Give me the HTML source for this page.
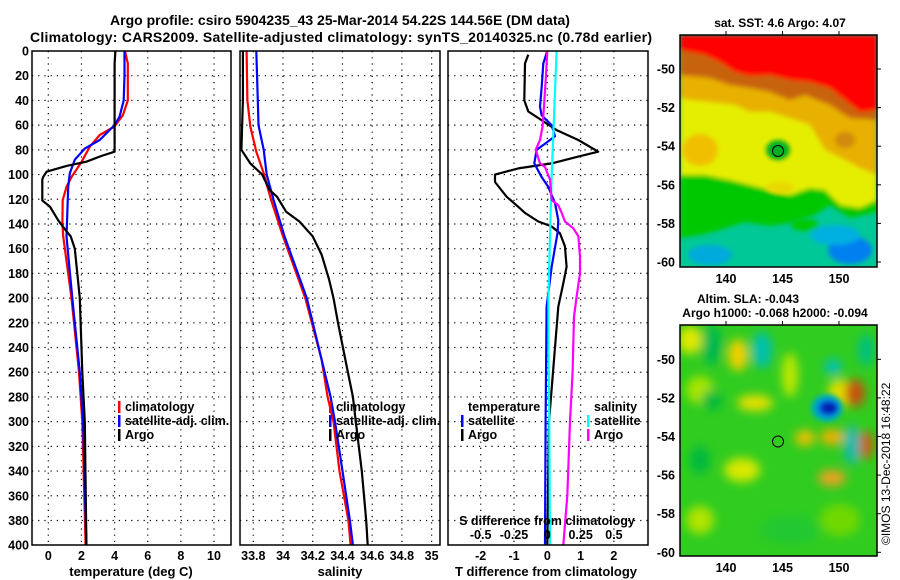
<!DOCTYPE html>
<html><head><meta charset="utf-8">
<style>
html,body{margin:0;padding:0;background:#fff;}
svg{display:block;font-family:"Liberation Sans",Arial,sans-serif;font-weight:bold;}
text{fill:#000;}
</style></head>
<body>
<svg id="chart" width="900" height="580" viewBox="0 0 900 580">
<defs>
<filter id="blur1" x="-20%" y="-20%" width="140%" height="140%"><feGaussianBlur stdDeviation="2.5"/></filter>
<filter id="blur2" x="-50%" y="-50%" width="200%" height="200%"><feGaussianBlur stdDeviation="5"/></filter>
<clipPath id="clipMap1"><rect x="680" y="35" width="197" height="232"/></clipPath>
<clipPath id="clipMap2"><rect x="680" y="325" width="197" height="231"/></clipPath>
<clipPath id="clipP1"><rect x="32" y="51" width="199" height="494"/></clipPath>
<clipPath id="clipP2"><rect x="240" y="51" width="200" height="494"/></clipPath>
<clipPath id="clipP3"><rect x="448" y="51" width="200" height="494"/></clipPath>
</defs>

<text x="340" y="25" font-size="14" text-anchor="middle">Argo profile: csiro 5904235_43 25-Mar-2014 54.22S 144.56E (DM data)</text>
<text x="341" y="42" font-size="14" text-anchor="middle" textLength="622">Climatology: CARS2009. Satellite-adjusted climatology: synTS_20140325.nc (0.78d earlier)</text>

<g id="grids"></g>
<g id="lines"></g>
<g id="frames"></g>
<g id="labels"></g>

<!-- Map 1 SST -->
<g clip-path="url(#clipMap1)">
<rect x="680" y="35" width="197" height="232" fill="#00c896"/>
<g filter="url(#blur1)">
<polygon fill="#00c800" points="680,35 877,35 877,212 850,218 830,205 815,215 795,222 770,226 745,222 720,230 700,235 680,238"/>
<polygon fill="#e6ee00" points="680,35 877,35 877,200 860,208 840,205 825,190 810,188 790,195 770,190 750,185 730,180 705,175 680,175"/>
<polygon fill="#e8b000" points="680,35 877,35 877,175 860,168 845,160 825,150 810,125 790,118 770,112 750,112 735,105 710,102 690,100 680,98"/>
<polygon fill="#c8640a" points="680,35 877,35 877,120 850,118 830,105 805,95 790,100 770,92 750,88 730,85 710,78 690,76 680,75"/>
<polygon fill="#ff0000" points="680,35 877,35 877,110 860,112 845,100 830,88 810,82 790,80 770,75 750,76 735,72 720,62 705,55 690,52 680,50"/>
</g>
<g filter="url(#blur1)">
<ellipse cx="850" cy="185" rx="12" ry="14" fill="#e6ee00"/>
<ellipse cx="845" cy="140" rx="10" ry="8" fill="#d08a10"/>
<ellipse cx="778" cy="150" rx="12" ry="10" fill="#00b020"/>
<ellipse cx="780" cy="188" rx="14" ry="6" fill="#e8d800"/>
<ellipse cx="700" cy="150" rx="18" ry="16" fill="#f0c000"/>
<ellipse cx="850" cy="250" rx="22" ry="14" fill="#0080f0"/>
<ellipse cx="710" cy="255" rx="22" ry="10" fill="#00aadd"/>
<ellipse cx="835" cy="235" rx="25" ry="10" fill="#00b0e0"/>
<ellipse cx="805" cy="225" rx="14" ry="6" fill="#00c800"/>
</g>
</g>
<rect x="680" y="35" width="197" height="232" fill="none" stroke="#000" stroke-width="1.5"/>
<circle cx="778" cy="151" r="5.5" fill="none" stroke="#000" stroke-width="1"/>
<text x="780" y="27" font-size="12" text-anchor="middle">sat. SST: 4.6 Argo: 4.07</text>

<!-- Map 2 SLA -->
<g clip-path="url(#clipMap2)">
<rect x="680" y="325" width="197" height="231" fill="#30cc20"/>
<g filter="url(#blur2)">
<ellipse cx="690" cy="340" rx="12" ry="14" fill="#e0e800"/>
<ellipse cx="738" cy="355" rx="10" ry="16" fill="#f0d000"/>
<ellipse cx="762" cy="350" rx="10" ry="18" fill="#00c0b0"/>
<ellipse cx="712" cy="345" rx="10" ry="20" fill="#00b850"/>
<ellipse cx="790" cy="375" rx="8" ry="22" fill="#c0e800"/>
<ellipse cx="755" cy="403" rx="18" ry="8" fill="#e8e000"/>
<ellipse cx="700" cy="390" rx="14" ry="14" fill="#a8e400"/>
<ellipse cx="712" cy="400" rx="10" ry="10" fill="#00b840"/>
<ellipse cx="840" cy="393" rx="12" ry="14" fill="#e0e000"/>
<ellipse cx="855" cy="393" rx="10" ry="14" fill="#c85010"/>
<ellipse cx="866" cy="445" rx="8" ry="14" fill="#c86010"/>
<ellipse cx="805" cy="438" rx="10" ry="8" fill="#f0c000"/>
<ellipse cx="832" cy="437" rx="12" ry="8" fill="#f0b000"/>
<ellipse cx="852" cy="445" rx="8" ry="20" fill="#10b8b0"/>
<ellipse cx="832" cy="478" rx="14" ry="8" fill="#f0a020"/>
<ellipse cx="742" cy="470" rx="18" ry="12" fill="#d8e800"/>
<ellipse cx="700" cy="460" rx="10" ry="14" fill="#00b840"/>
<ellipse cx="700" cy="520" rx="14" ry="14" fill="#b0e400"/>
<ellipse cx="790" cy="530" rx="30" ry="14" fill="#20c830"/>
<ellipse cx="840" cy="520" rx="20" ry="16" fill="#70d800"/>
<ellipse cx="866" cy="350" rx="8" ry="16" fill="#00c080"/>
<ellipse cx="833" cy="367" rx="8" ry="8" fill="#00c0c0"/>
</g>
<g filter="url(#blur1)">
<ellipse cx="827" cy="408" rx="16" ry="14" fill="#00b0b0"/>
<ellipse cx="828" cy="408" rx="11" ry="9" fill="#0070e8"/>
<ellipse cx="829" cy="408" rx="8" ry="6" fill="#0020b0"/>
</g>
</g>
<rect x="680" y="325" width="197" height="231" fill="none" stroke="#000" stroke-width="1.5"/>
<circle cx="778" cy="441.5" r="5.5" fill="none" stroke="#000" stroke-width="1"/>
<text x="748" y="303" font-size="12" text-anchor="middle">Altim. SLA: -0.043</text>
<text x="775" y="317" font-size="12" text-anchor="middle">Argo h1000: -0.068 h2000: -0.094</text>
<text transform="translate(890,545) rotate(-90)" font-size="12" font-weight="normal">©IMOS 13-Dec-2018 16:48:22</text>

<script>
// ---- data ----
var depthTicks = [0,20,40,60,80,100,120,140,160,180,200,220,240,260,280,300,320,340,360,380,400];
var tempTicks = [0,2,4,6,8,10];
var salTicks = [33.8,34,34.2,34.4,34.6,34.8,35];
var salTickLabels = ["33.8","34","34.2","34.4","34.6","34.8","35"];
var tdiffTicks = [-2,-1,0,1,2];
var sdiffTicks = [-0.5,-0.25,0,0.25,0.5];
var sdiffTickLabels = ["-0.5","-0.25","0","0.25","0.5"];

var argoTDepth = [0,10,40,49,56,64,72,81.5,85,89.6,93,97.7,101.7,104,121,126,137,146,150,160,200,260,300,350,400];
var argoTemp   = [4.05,4.0,4.0,4.0,4.0,4.0,4.0,4.0,3.2,2.3,1.1,-0.1,-0.3,-0.36,-0.36,0.1,0.6,1.1,1.35,1.6,1.9,2.05,2.2,2.25,2.3];
var climTDepth = [0,10,40,52,61,68,77.5,90,102,110,120.6,139,150,200,260,300,400];
var climTemp   = [4.63,4.8,4.8,4.5,4.0,3.1,2.5,2.0,1.4,1.1,0.87,0.85,0.9,1.4,1.85,2.05,2.25];
var satTDepth  = [0,20,40,53,60,72,79,88,99,110,150,200,260,300,400];
var satTemp    = [4.6,4.6,4.55,4.3,4.0,3.1,2.2,1.6,1.3,1.2,1.1,1.45,1.9,2.1,2.3];

var argoSDepth = [0,40,80,91,100,112.5,118,130,138,150,165,185,200,220,250,280,300,340,380,400];
var argoSal    = [33.73,33.73,33.72,33.78,33.86,33.91,33.96,34.02,34.11,34.2,34.26,34.31,34.34,34.37,34.42,34.47,34.49,34.53,34.56,34.57];
var climSDepth = [0,40,61,81.5,99,120.6,150,200,250,280,300,340,380,400];
var climSal    = [33.755,33.76,33.78,33.82,33.87,33.92,34.0,34.15,34.26,34.3,34.34,34.38,34.44,34.455];
var satSDepth  = [0,40,60,80,100,120,150,200,280,300,340,380,400];
var satSal     = [33.82,33.83,33.835,33.87,33.89,33.935,34.01,34.16,34.32,34.35,34.4,34.45,34.47];

var argoTdDepth = [3,10,40,49,56,64,72,81.5,85.5,91,95,100,106,118,125,131,138,142,147.6,158,174.6,188,207,260,300,400];
var argoTdiff   = [-0.57,-0.67,-0.69,-0.57,-0.17,0.28,0.93,1.53,0.93,0.13,-0.87,-1.57,-1.57,-1.22,-0.92,-0.67,-0.27,0.13,0.38,0.53,0.58,0.48,0.33,0.17,0.05,0.0];
var satTdDepth  = [0,10,30,45,52,60,69,75,80,91,102,110,123,137,147,175,207,300,400];
var satTdiff    = [0,-0.12,-0.17,-0.22,-0.17,0.13,0.23,-0.07,-0.32,-0.39,-0.17,0.03,0.23,0.33,0.31,0.13,-0.02,-0.05,-0.07];
var satSdDepth  = [0,100,150,200,250,300,400];
var satSdiff    = [0.07,0.033,0.02,0.008,0.01,0.015,0.02];
var argoSdDepth = [0,20,37,61,72,80,91,94,104,120.6,125,131,138,143.5,150,166.5,180,199,215,260,300,360,400];
var argoSdiff   = [0,-0.01,-0.02,-0.035,-0.055,-0.087,-0.055,-0.017,0.02,0.033,0.083,0.108,0.133,0.195,0.233,0.245,0.245,0.22,0.2,0.19,0.17,0.15,0.12];

// ---- axes ----
var NS = "http://www.w3.org/2000/svg";
function yD(d){ return 51 + d*1.2355; }
function xT(t){ return 48.3 + t*16.57; }
function xS(s){ return 253.3 + (s-33.8)*148.6; }
function xTd(t){ return 547.3 + t*33.3; }
function xSd(s){ return 547.3 + s*133.3; }

function mk(tag, parent, attrs){
  var e = document.createElementNS(NS, tag);
  for (var k in attrs) e.setAttribute(k, attrs[k]);
  parent.appendChild(e);
  return e;
}
var gG = document.getElementById('grids');
var gL = document.getElementById('lines');
var gF = document.getElementById('frames');
var gT = document.getElementById('labels');

var panels = [
  {x0:32, x1:231, name:'temperature-panel', fx:xT, ticks:tempTicks, labels:tempTicks.map(String)},
  {x0:240, x1:440, name:'salinity-panel', fx:xS, ticks:salTicks, labels:salTickLabels},
  {x0:448, x1:648, name:'t-diff-panel', fx:xTd, ticks:tdiffTicks, labels:tdiffTicks.map(String)}
];
panels.forEach(function(p){
  depthTicks.forEach(function(d){
    if (d===0 || d===400) return;
    var l = mk('line', gG, {x1:p.x0, x2:p.x1, y1:yD(d), y2:yD(d), stroke:'#000','stroke-width':1.2,'stroke-dasharray':'1.2 5'});
    
    
  });
  p.ticks.forEach(function(t){
    var x = p.fx(t);
    var l = mk('line', gG, {x1:x, x2:x, y1:51, y2:545, stroke:'#000','stroke-width':1.2,'stroke-dasharray':'1.2 5'});
    
    
  });
  var r = mk('rect', gF, {x:p.x0, y:51, width:p.x1-p.x0, height:494, fill:'none', stroke:'#000','stroke-width':1.5});
  
  
  p.ticks.forEach(function(t,i){
    var tx = mk('text', gT, {x:p.fx(t), y:560, 'font-size':12.5, 'text-anchor':'middle'});
    tx.textContent = p.labels[i];
    
    
  });
});
depthTicks.forEach(function(d){
  var tx = mk('text', gT, {x:29, y:yD(d)+4.5, 'font-size':12.5, 'text-anchor':'end'});
  tx.textContent = String(d);
  
  
});
sdiffTicks.forEach(function(s,i){
  var tx = mk('text', gT, {x:xSd(s), y:539, 'font-size':12.5, 'text-anchor':'middle'});
  tx.textContent = sdiffTickLabels[i];
  
  
});
var sdt = mk('text', gT, {x:547, y:525, 'font-size':12.5, 'text-anchor':'middle'});
sdt.textContent = 'S difference from climatology';



var xtitles = [[131,'temperature (deg C)','temperature-axis-title'],[340,'salinity','salinity-axis-title'],[546,'T difference from climatology','t-diff-axis-title']];
xtitles.forEach(function(a){
  var tx = mk('text', gT, {x:a[0], y:576, 'font-size':13, 'text-anchor':'middle'});
  tx.textContent = a[1];
  
  
});

// ---- lines ----
function series(depths, vals, fx, color, clip, name){
  var pts = depths.map(function(d,i){ return fx(vals[i]).toFixed(1)+','+yD(d).toFixed(1); }).join(' ');
  var pl = mk('polyline', gL, {points:pts, fill:'none', stroke:color, 'stroke-width':2.2, 'stroke-linejoin':'round', 'clip-path':'url(#'+clip+')'});
  
  
}
series(climTDepth, climTemp, xT, '#ff0000', 'clipP1', 'climatology-temperature-line');
series(satTDepth, satTemp, xT, '#0000ff', 'clipP1', 'satellite-temperature-line');
series(argoTDepth, argoTemp, xT, '#000000', 'clipP1', 'argo-temperature-line');
series(climSDepth, climSal, xS, '#ff0000', 'clipP2', 'climatology-salinity-line');
series(satSDepth, satSal, xS, '#0000ff', 'clipP2', 'satellite-salinity-line');
series(argoSDepth, argoSal, xS, '#000000', 'clipP2', 'argo-salinity-line');
series(argoTdDepth, argoTdiff, xTd, '#000000', 'clipP3', 'argo-t-diff-line');
series(satTdDepth, satTdiff, xTd, '#0000ff', 'clipP3', 'satellite-t-diff-line');
series(satSdDepth, satSdiff, xSd, '#00ffff', 'clipP3', 'satellite-s-diff-line');
series(argoSdDepth, argoSdiff, xSd, '#ff00ff', 'clipP3', 'argo-s-diff-line');

// ---- legends ----
function legendEntry(x, y, color, label, name){
  if (color) {
    var r = mk('rect', gT, {x:x, y:y-10, width:2.5, height:12, fill:color});
    
    
  }
  var tx = mk('text', gT, {x:x+7, y:y, 'font-size':12.5});
  tx.textContent = label;
  
  
}
legendEntry(118, 411, '#ff0000', 'climatology', 'legend-climatology');
legendEntry(118, 425, '#0000ff', 'satellite-adj. clim.', 'legend-satellite-adj');
legendEntry(118, 439, '#000000', 'Argo', 'legend-argo');
legendEntry(329, 411, '#ff0000', 'climatology', 'legend-climatology-sal');
legendEntry(329, 425, '#0000ff', 'satellite-adj. clim.', 'legend-satellite-adj-sal');
legendEntry(329, 439, '#000000', 'Argo', 'legend-argo-sal');
legendEntry(461, 411, null, 'temperature', 'legend-temperature-header');
legendEntry(461, 425, '#0000ff', 'satellite', 'legend-t-satellite');
legendEntry(461, 439, '#000000', 'Argo', 'legend-t-argo');
legendEntry(587, 411, null, 'salinity', 'legend-salinity-header');
legendEntry(587, 425, '#00ffff', 'satellite', 'legend-s-satellite');
legendEntry(587, 439, '#ff00ff', 'Argo', 'legend-s-argo');

// ---- map axes ----
var mapLons = [140,145,150];
var map1Lats = [-50,-52,-54,-56,-58,-60];
function lonX(l){ return 726 + (l-140)*11.3; }
function lat1Y(l){ return 69 + (-50-l)*19.3; }
function lat2Y(l){ return 359.3 + (-50-l)*19.3; }
[[lat1Y,283,35,267],[lat2Y,572,325,556]].forEach(function(m, mi){
  mapLons.forEach(function(l){
    var tx = mk('text', gT, {x:lonX(l), y:m[1], 'font-size':12.5, 'text-anchor':'middle'});
    tx.textContent = String(l);
    
    
    var t1 = mk('line', gT, {x1:lonX(l), x2:lonX(l), y1:m[2]-4, y2:m[2], stroke:'#000'});
    
    
  });
  map1Lats.forEach(function(l){
    var y = m[0](l);
    var tx = mk('text', gT, {x:675, y:y+4.5, 'font-size':12.5, 'text-anchor':'end'});
    tx.textContent = String(l);
    
    
    var t2 = mk('line', gT, {x1:877, x2:881, y1:y, y2:y, stroke:'#000'});
    
    
  });
});
</script>
</svg>
</body></html>
